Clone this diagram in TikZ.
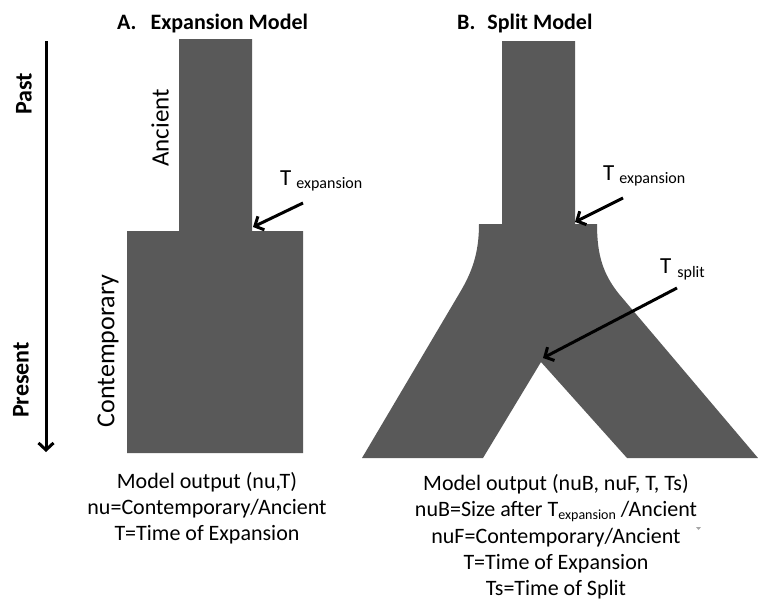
\documentclass[tikz,border=0pt]{standalone}
\usepackage{fontspec}
\setmainfont{Carlito}
\usetikzlibrary{arrows.meta}
\definecolor{popgray}{RGB}{89,89,89}
\begin{document}
\begin{tikzpicture}[x=1pt,y=-1pt,
  pop/.style={fill=popgray,draw=none},
  ptr/.style={line width=3pt,-{Straight Barb[length=7pt,width=15pt,line width=3pt]}},
  ttl/.style={inner sep=0pt,font=\fontsize{22}{25}\selectfont\bfseries,anchor=base west},
  side/.style={inner sep=0pt,rotate=90,anchor=center},
  lbl/.style={inner sep=0pt,anchor=base west,font=\fontsize{23}{26}\selectfont},
  outline/.style={inner sep=0pt,anchor=base,font=\fontsize{22}{26}\selectfont}]
\useasboundingbox (0,0) rectangle (758,600);

% titles
\node[ttl] (titleA) at (117,29) {A.\hspace{14pt}Expansion Model};
\node[ttl] (titleB) at (457,29) {B.\hspace{12pt}Split Model};

% time axis
\coordinate (past) at (46,41);
\coordinate (present) at (46,452);
\draw[line width=3pt,-{Straight Barb[length=7pt,width=15pt,line width=3pt]}] (past) -- (present);
\node[side,font=\fontsize{24}{24}\selectfont\bfseries] (pastlbl) at (24,94) {Past};
\node[side,font=\fontsize{24}{24}\selectfont\bfseries] (presentlbl) at (21,380) {Present};

% panel A shape
\path[pop] (179,39) -- (252,39) -- (252,231) -- (303,231) -- (303,453)
  -- (127,453) -- (127,231) -- (179,231) -- cycle;
\node[side,font=\fontsize{25}{25}\selectfont] (ancient) at (160,128) {Ancient};
\node[side,font=\fontsize{26}{26}\selectfont] (contemp) at (108,351) {Contemporary};

% T expansion A
\node[lbl] (texpA) at (280,185) {T\hspace{5pt}\raisebox{-3pt}{\fontsize{16}{16}\selectfont expansion}};
\coordinate (texpAtail) at (303,203);
\coordinate (texpAtip) at (253,227);
\draw[ptr] (texpAtail) -- (texpAtip);

% panel B shape
\path[pop] (502,41) -- (575,41) -- (575,224) -- (597,224)
  .. controls (597,255) and (603,274) .. (619,294)
  -- (758,458) -- (627,458) -- (541,362) -- (483,458) -- (362,458)
  -- (459,294) .. controls (471,274) and (479,255) .. (479,224)
  -- (502,224) -- cycle;

% T expansion B
\node[lbl] (texpB) at (603,180) {T\hspace{5pt}\raisebox{-3pt}{\fontsize{16}{16}\selectfont expansion}};
\coordinate (texpBtail) at (623,198);
\coordinate (texpBtip) at (575,222);
\draw[ptr] (texpBtail) -- (texpBtip);

% T split
\node[lbl] (tsplit) at (660,273) {T\hspace{6pt}\raisebox{-4pt}{\fontsize{16}{16}\selectfont split}};
\coordinate (tsplittail) at (677,288);
\coordinate (tsplittip) at (543,358);
\draw[ptr] (tsplittail) -- (tsplittip);

% outputs A
\node[outline] (outA1) at (207,488) {Model output (nu,T)};
\node[outline] (outA2) at (207,514) {nu=Contemporary/Ancient};
\node[outline] (outA3) at (207,540) {T=Time of Expansion};
% outputs B
\node[outline] (outB1) at (556,490) {Model output (nuB, nuF, T, Ts)};
\node[outline] (outB2) at (556,516) {nuB=Size after T\raisebox{-3pt}{\fontsize{14}{14}\selectfont expansion} /Ancient};
\node[outline] (outB3) at (556,543) {nuF=Contemporary/Ancient};
\node[outline] (outB4) at (556,569) {T=Time of Expansion};
\node[outline] (outB5) at (556,595) {Ts=Time of Split};
\path[fill=gray!70] (696,527) -- (701,527) -- (698.5,530) -- cycle;
\end{tikzpicture}
\end{document}
